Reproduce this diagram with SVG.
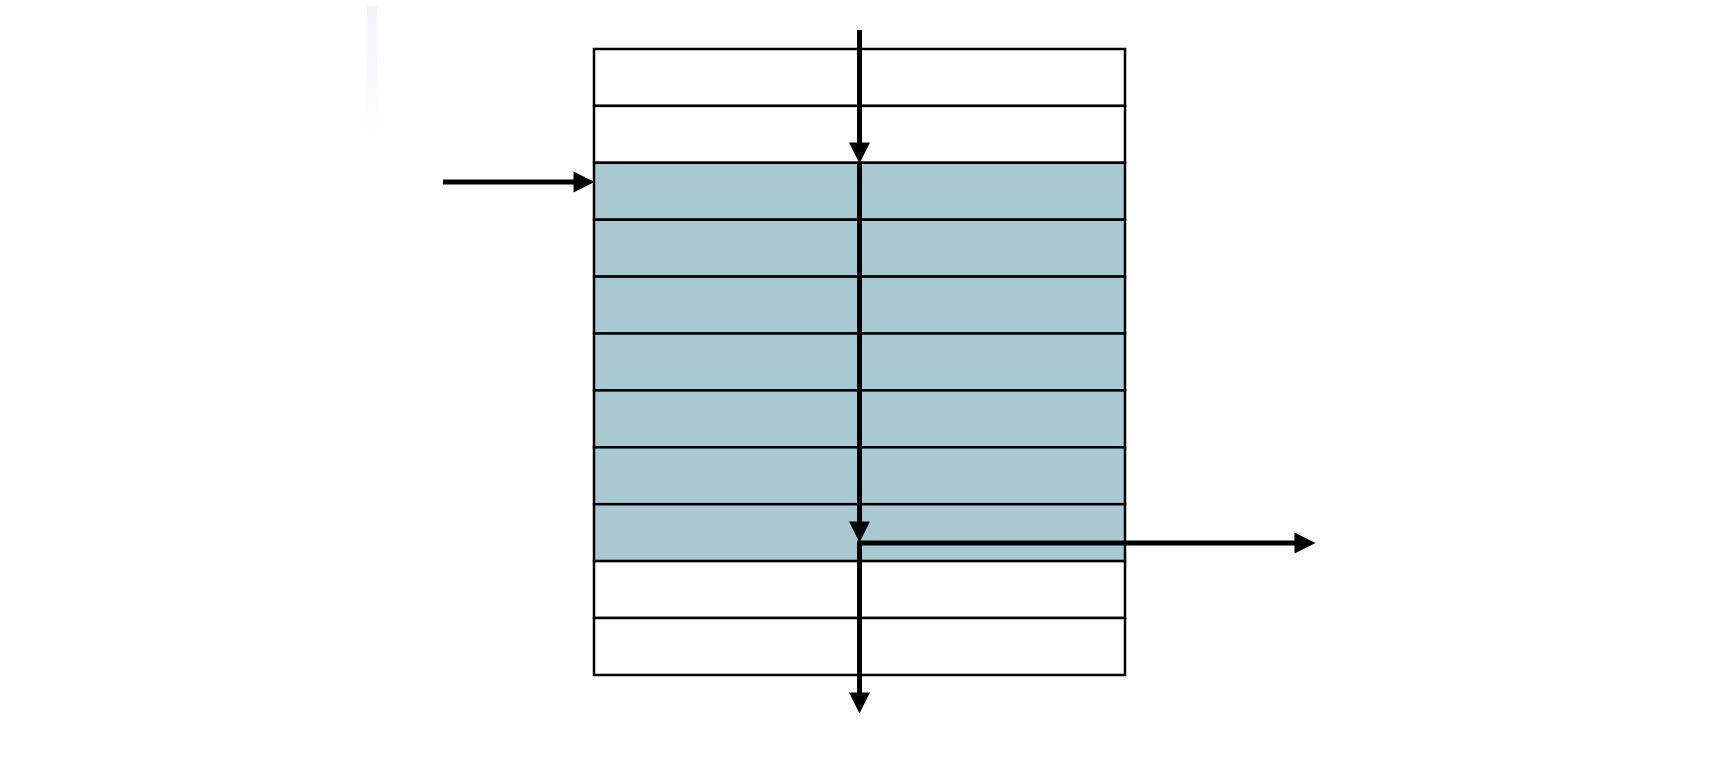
<svg xmlns="http://www.w3.org/2000/svg" width="1728" height="758" viewBox="0 0 1728 758">
<style>
.row{stroke:#000;stroke-width:2.5}
.w{fill:#fff}
.b{fill:#a8c9d2}
.c{stroke:#000;stroke-width:5;fill:none}
</style>
<defs>
<marker id="ah" markerUnits="userSpaceOnUse" markerWidth="21" markerHeight="21" viewBox="0 0 20 20" refX="0.5" refY="10" orient="auto" overflow="visible">
<path d="M0,0 L20,10 L0,20 Z" fill="#000"/>
</marker>
<linearGradient id="fg" x1="0" y1="0" x2="0" y2="1">
<stop offset="0" stop-color="#f3f3f9"/>
<stop offset="1" stop-color="#fff"/>
</linearGradient>
</defs>
<rect width="1728" height="758" fill="#fff"/>
<rect x="367" y="6" width="10" height="136" fill="url(#fg)"/>
<g id="table">
<rect id="r1" class="row w" x="594" y="49" width="531" height="56.9"/>
<rect id="r2" class="row w" x="594" y="105.9" width="531" height="56.9"/>
<rect id="r3" class="row b" x="594" y="162.8" width="531" height="56.9"/>
<rect id="r4" class="row b" x="594" y="219.7" width="531" height="56.9"/>
<rect id="r5" class="row b" x="594" y="276.6" width="531" height="56.9"/>
<rect id="r6" class="row b" x="594" y="333.5" width="531" height="56.9"/>
<rect id="r7" class="row b" x="594" y="390.4" width="531" height="56.9"/>
<rect id="r8" class="row b" x="594" y="447.3" width="531" height="56.9"/>
<rect id="r9" class="row b" x="594" y="504.2" width="531" height="56.9"/>
<rect id="r10" class="row w" x="594" y="561.1" width="531" height="56.9"/>
<rect id="r11" class="row w" x="594" y="618" width="531" height="57"/>
</g>
<g id="connectors">
<line class="c" x1="443" y1="182" x2="574" y2="182" marker-end="url(#ah)"/>
<line class="c" x1="859.5" y1="30" x2="859.5" y2="143" marker-end="url(#ah)"/>
<line class="c" x1="859.5" y1="162" x2="859.5" y2="522" marker-end="url(#ah)"/>
<line class="c" x1="857" y1="543" x2="1295" y2="543" marker-end="url(#ah)"/>
<line class="c" x1="859.5" y1="541" x2="859.5" y2="693" marker-end="url(#ah)"/>
</g>
</svg>
